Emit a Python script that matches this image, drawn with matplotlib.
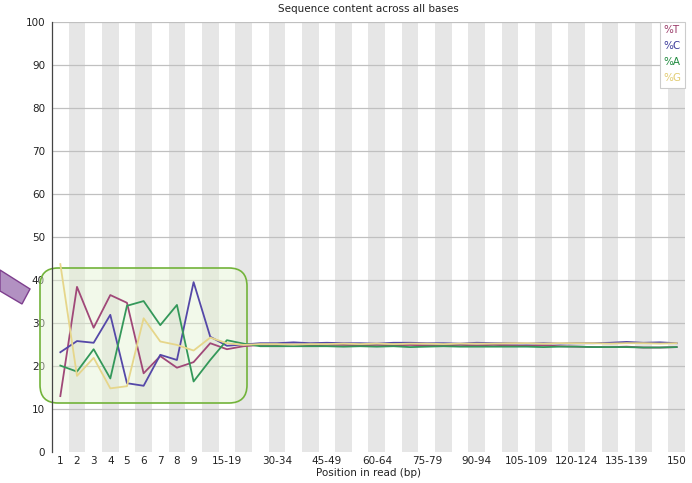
import matplotlib
matplotlib.use("Agg")
import matplotlib.pyplot as plt
from matplotlib.patches import FancyBboxPatch, Polygon
from matplotlib.transforms import IdentityTransform

positions = [str(i) for i in range(1, 10)] + [f"{s}-{s+4}" for s in range(10, 146, 5)] + ["150"]

pct_T = [13.0, 38.4, 28.9, 36.5, 34.7, 18.3, 22.3, 19.6, 20.9, 25.3, 23.9, 24.6,
         24.9, 24.9, 25.0, 24.8, 24.9, 24.9, 24.8, 24.9, 24.8, 24.9, 24.8, 24.8,
         24.9, 24.8, 24.9, 24.8, 24.7, 24.8, 24.6, 24.5, 24.4, 24.4, 24.5, 24.3,
         24.3, 24.4]
pct_C = [23.2, 25.8, 25.4, 31.9, 16.0, 15.4, 22.6, 21.4, 39.5, 26.8, 24.7, 25.0,
         25.3, 25.3, 25.5, 25.3, 25.4, 25.3, 25.3, 25.2, 25.4, 25.4, 25.3, 25.3,
         25.2, 25.4, 25.3, 25.3, 25.2, 25.3, 25.2, 25.3, 25.3, 25.4, 25.6, 25.4,
         25.5, 25.3]
pct_A = [20.1, 18.7, 23.9, 17.1, 34.0, 35.1, 29.5, 34.2, 16.4, 21.4, 26.0, 25.2,
         24.6, 24.6, 24.6, 24.6, 24.6, 24.5, 24.6, 24.5, 24.6, 24.4, 24.5, 24.6,
         24.5, 24.5, 24.5, 24.5, 24.5, 24.4, 24.5, 24.5, 24.4, 24.4, 24.4, 24.3,
         24.3, 24.4]
pct_G = [43.7, 17.7, 21.9, 14.8, 15.3, 31.1, 25.7, 24.9, 23.6, 26.6, 25.3, 24.9,
         25.1, 25.1, 25.0, 25.1, 25.1, 25.2, 25.1, 25.2, 25.1, 25.2, 25.2, 25.1,
         25.2, 25.2, 25.2, 25.3, 25.3, 25.2, 25.3, 25.3, 25.3, 25.2, 25.3, 25.3,
         25.2, 25.3]

series = [("%T", pct_T, "#a04878", "#9a3a68"),
          ("%C", pct_C, "#5548a8", "#3c3c9a"),
          ("%A", pct_A, "#34985a", "#1f8a3e"),
          ("%G", pct_G, "#e6d68a", "#e2cc72")]

W, H = 692, 483
fig = plt.figure(figsize=(W / 100, H / 100), dpi=100)
ax = fig.add_axes([52 / W, 31 / H, 633 / W, 430 / H])

n = len(positions)
xs = list(range(n))
for i in xs:
    if i % 2 == 1:
        ax.axvspan(i - 0.5, i + 0.5, color="#e6e6e6", lw=0, zorder=0)
for v in range(10, 101, 10):
    ax.axhline(v, color="#c0c0c0", lw=0.9, zorder=1)

for name, vals, col, _ in series:
    ax.plot(xs, vals, color=col, lw=1.3, zorder=3)

ax.set_xlim(-0.5, n - 0.5)
ax.set_ylim(0, 100)
ax.set_yticks(range(0, 101, 10))
ax.set_yticklabels([str(v) for v in range(0, 101, 10)])
tick_idx = list(range(9)) + list(range(10, n, 3))
ax.set_xticks(tick_idx)
ax.set_xticklabels([positions[i] for i in tick_idx])
ax.tick_params(axis="both", length=0, labelsize=7.5, colors="#222222")
ax.tick_params(axis="x", pad=3)
ax.tick_params(axis="y", pad=5)
for s in ["top", "right", "bottom"]:
    ax.spines[s].set_visible(False)
ax.spines["left"].set_color("#444444")
ax.spines["left"].set_linewidth(0.9)
ax.set_xlabel("Position in read (bp)", fontsize=7.5, labelpad=1, color="#222222")
ax.set_title("Sequence content across all bases", fontsize=7.5, pad=7, color="#222222")

# legend box
leg = FancyBboxPatch((660, H - 88), 25, 66, boxstyle="square,pad=0",
                     transform=IdentityTransform(), facecolor="white",
                     edgecolor="#cccccc", lw=0.8, zorder=5)
fig.patches.append(leg)
for k, (name, vals, col, tcol) in enumerate(series):
    fig.text(663 / W, (H - 30 - k * 16) / H, name, color=tcol, fontsize=7.5,
             ha="left", va="center", zorder=6)

# highlight box (below the lines)
hl = FancyBboxPatch((40, H - 403), 207, 135, boxstyle="round,pad=0,rounding_size=18",
                    transform=IdentityTransform(), facecolor="#e4f2d2", alpha=0.45,
                    edgecolor="none", zorder=2, clip_on=False)
ax.add_artist(hl)
hl2 = FancyBboxPatch((40, H - 403), 207, 135, boxstyle="round,pad=0,rounding_size=18",
                     transform=IdentityTransform(), facecolor="none",
                     edgecolor="#72b33a", lw=1.2, zorder=2.5, clip_on=False)
ax.add_artist(hl2)

# arrow marker
arr = Polygon([(0, H - 270), (30, H - 289), (22, H - 304), (0, H - 291)], closed=True,
              transform=IdentityTransform(), facecolor="#b291c2", edgecolor="#7e3f8e",
              lw=1.0, zorder=4)
fig.patches.append(arr)

fig.savefig("out.png", dpi=100)
